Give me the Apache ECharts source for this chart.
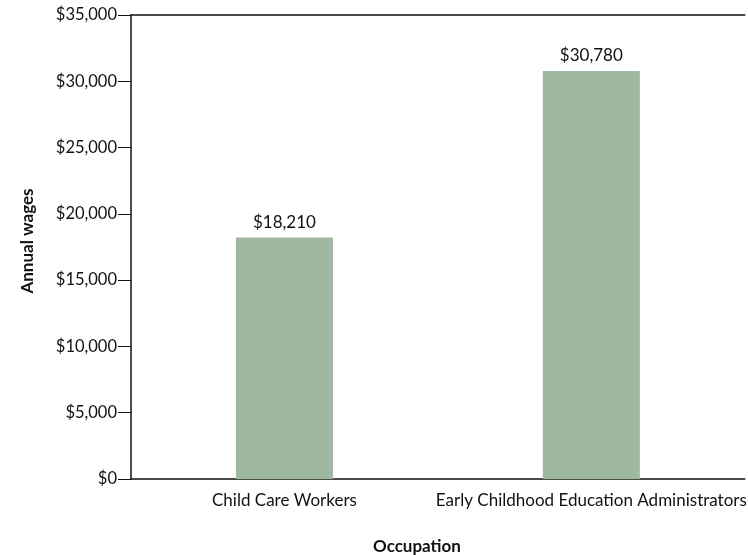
<!DOCTYPE html>
<html>
<head>
<meta charset="utf-8">
<script src="https://cdn.jsdelivr.net/npm/echarts@6/dist/echarts.min.js"></script>
<style>
  html, body { margin: 0; padding: 0; background: #fff; }
  #chart { width: 748px; height: 555px; }
</style>
</head>
<body>
<div id="chart"></div>
<script>
// Annual wages by occupation
const occupations = ['Child Care Workers', 'Early Childhood Education Administrators'];
const annualWages = [18210, 30780];
const yTicks = [0, 5000, 10000, 15000, 20000, 25000, 30000, 35000];
const xTitle = 'Occupation';
const yTitle = 'Annual wages';

const FONT = 'Lato';
const money = v => '$' + v.toLocaleString('en-US');

const chart = echarts.init(document.getElementById('chart'), null, { renderer: 'canvas' });
chart.setOption({
  animation: false,
  textStyle: { fontFamily: FONT, color: '#111' },
  grid: { left: 131, right: -4, top: 15, bottom: 76, containLabel: false },
  xAxis: [
    {
      type: 'category',
      data: occupations,
      axisLine: { lineStyle: { color: '#111', width: 1.5 } },
      axisTick: { show: false },
      axisLabel: { fontFamily: FONT, fontSize: 17, color: '#111', margin: 13, interval: 0 }
    },
    {
      type: 'category',
      data: occupations,
      position: 'top',
      axisLine: { lineStyle: { color: '#111', width: 1.5 } },
      axisTick: { show: false },
      axisLabel: { show: false }
    }
  ],
  yAxis: {
    type: 'value',
    min: yTicks[0],
    max: yTicks[yTicks.length - 1],
    interval: 5000,
    axisLine: { show: true, lineStyle: { color: '#111', width: 1.5 } },
    axisTick: { show: true, length: 13, lineStyle: { color: '#111', width: 1 } },
    axisLabel: { fontFamily: FONT, fontSize: 16.5, color: '#111', margin: 14, formatter: money },
    splitLine: { show: false }
  },
  // axis titles
  graphic: [
    {
      type: 'text',
      left: 373,
      top: 538,
      style: { text: xTitle, fontFamily: FONT, fontWeight: 'bold', fontSize: 17, fill: '#111' }
    },
    {
      type: 'text',
      x: 28,
      y: 241,
      rotation: Math.PI / 2,
      style: {
        text: yTitle, fontFamily: FONT, fontWeight: 'bold', fontSize: 17, fill: '#111',
        align: 'center', verticalAlign: 'middle'
      }
    }
  ],
  series: [{
    type: 'bar',
    data: annualWages,
    barWidth: 97,
    z: 3,
    itemStyle: { color: '#9fb8a0' },
    label: {
      show: true,
      position: 'top',
      distance: 7,
      fontFamily: FONT,
      fontSize: 17,
      color: '#111',
      formatter: p => money(p.value)
    }
  }]
});
</script>
</body>
</html>
